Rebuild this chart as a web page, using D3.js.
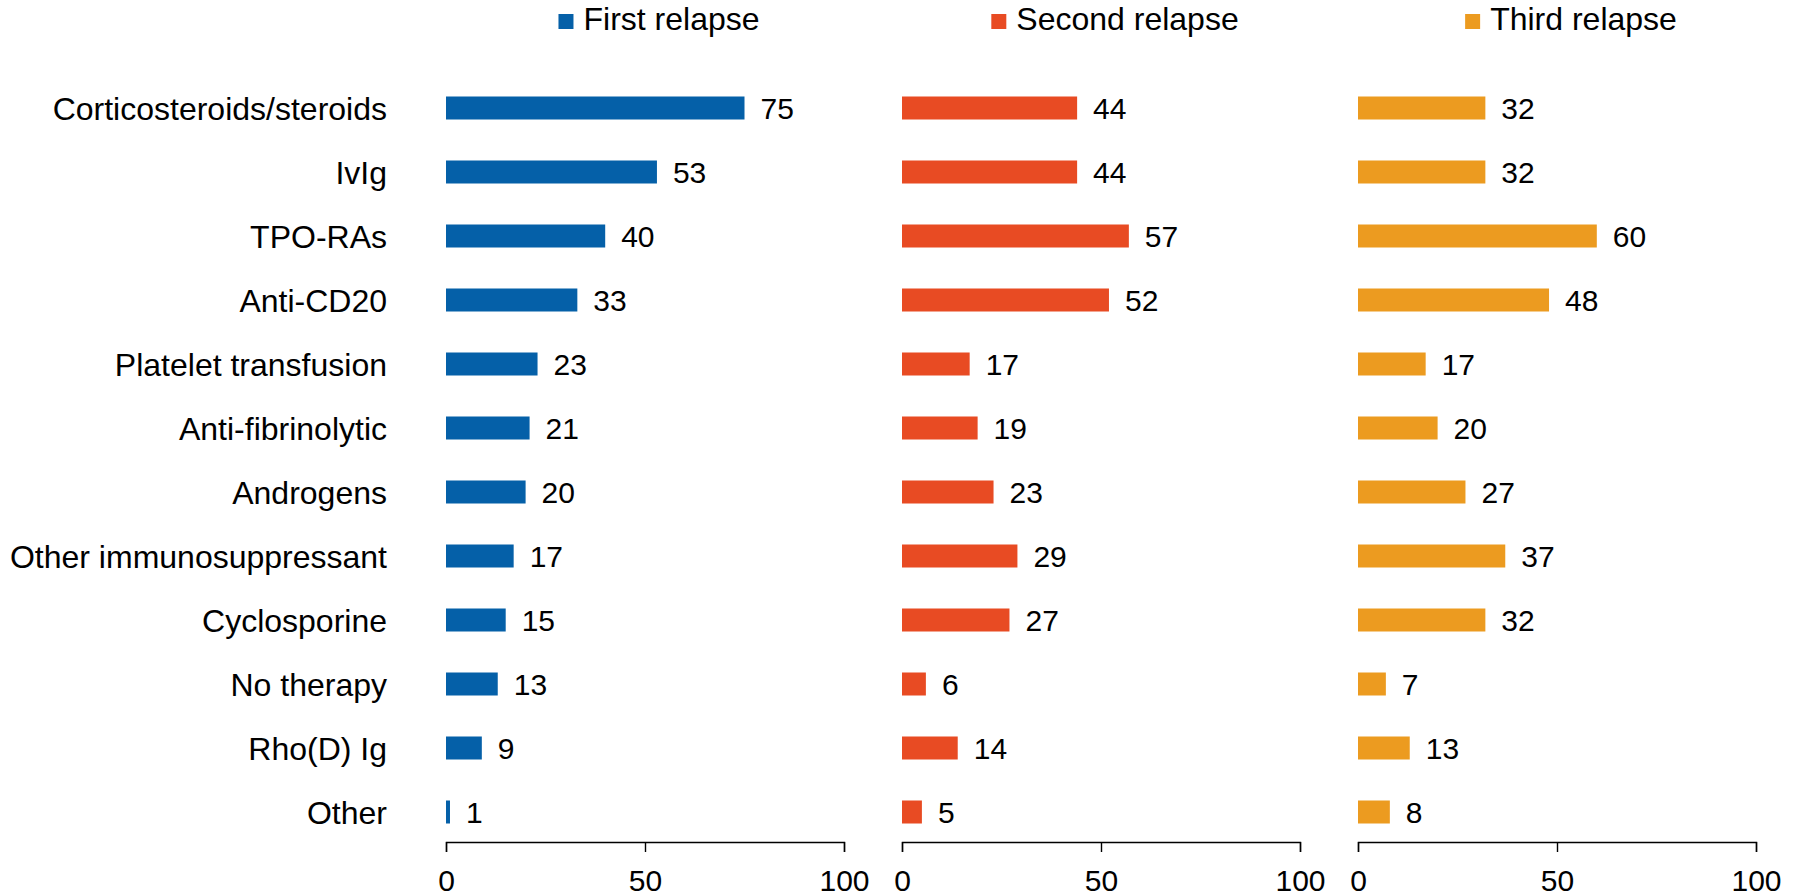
<!DOCTYPE html>
<html>
<head>
<meta charset="utf-8">
<script src="https://cdn.jsdelivr.net/npm/d3@7"></script>
<style>
  html, body { margin: 0; padding: 0; background: #fff; }
  svg { display: block; font-family: "Liberation Sans", Arial, Helvetica, sans-serif; }
</style>
</head>
<body>
<svg id="chart" width="1800" height="896"></svg>
<script>
// Treatments used at each relapse (% of patients)
const categories = [
  "Corticosteroids/steroids", "IvIg", "TPO-RAs", "Anti-CD20",
  "Platelet transfusion", "Anti-fibrinolytic", "Androgens",
  "Other immunosuppressant", "Cyclosporine", "No therapy",
  "Rho(D) Ig", "Other"
];
const seriesNames = ["First relapse", "Second relapse", "Third relapse"];
const firstRelapse  = [75, 53, 40, 33, 23, 21, 20, 17, 15, 13, 9, 1];
const secondRelapse = [44, 44, 57, 52, 17, 19, 23, 29, 27, 6, 14, 5];
const thirdRelapse  = [32, 32, 60, 48, 17, 20, 27, 37, 32, 7, 13, 8];
const axisTicks = [0, 50, 100];

const seriesValues = [firstRelapse, secondRelapse, thirdRelapse];
const colors = ["#0560a8", "#e84b23", "#ec9b20"];

const svg = d3.select("#chart");

// layout
const panelLeft = [446, 902, 1358];
const panelWidth = 398;
const axisY = 842;
const barHeight = 23;

const y = d3.scaleBand()
  .domain(categories)
  .range([76, 76 + 64 * categories.length]);

// category labels
svg.append("g")
  .selectAll("text")
  .data(categories)
  .join("text")
  .attr("x", 387)
  .attr("y", d => y(d) + y.bandwidth() / 2 + 11.5)
  .attr("text-anchor", "end")
  .attr("font-size", 32)
  .attr("fill", "#000")
  .text(d => d);

seriesNames.forEach((name, si) => {
  const x = d3.scaleLinear().domain([0, 100]).range([panelLeft[si], panelLeft[si] + panelWidth]);
  const rows = categories.map((c, i) => ({ c, v: seriesValues[si][i] }));
  const g = svg.append("g");

  g.selectAll("rect")
    .data(rows)
    .join("rect")
    .attr("x", x(0))
    .attr("y", d => y(d.c) + y.bandwidth() / 2 - barHeight / 2)
    .attr("width", d => x(d.v) - x(0))
    .attr("height", barHeight)
    .attr("fill", colors[si]);

  g.selectAll("text.val")
    .data(rows)
    .join("text")
    .attr("class", "val")
    .attr("x", d => x(d.v) + 16)
    .attr("y", d => y(d.c) + y.bandwidth() / 2 + 11)
    .attr("font-size", 30)
    .attr("fill", "#000")
    .text(d => d.v);

  // axis
  const ax = svg.append("g")
    .attr("transform", `translate(0,${axisY})`)
    .call(d3.axisBottom(x).tickValues(axisTicks).tickSize(10).tickSizeOuter(10).tickPadding(18));
  ax.select(".domain").attr("stroke", "#000").attr("stroke-width", 1.4);
  ax.selectAll(".tick line").attr("stroke", "#000").attr("stroke-width", 1.4);
  ax.selectAll(".tick text")
    .attr("font-size", 30)
    .attr("font-family", "\"Liberation Sans\", Arial, Helvetica, sans-serif")
    .attr("fill", "#000");

  // legend item, centred above its panel
  const center = panelLeft[si] + panelWidth / 2 + 14;
  const lg = svg.append("g");
  const label = lg.append("text")
    .attr("y", 30)
    .attr("font-size", 32)
    .attr("fill", "#000")
    .text(name);
  const tw = label.node().getComputedTextLength();
  const total = 15 + 10 + tw;
  const start = center - total / 2;
  lg.append("rect")
    .attr("x", start)
    .attr("y", 14)
    .attr("width", 15)
    .attr("height", 15)
    .attr("fill", colors[si]);
  label.attr("x", start + 25);
});
</script>
</body>
</html>
